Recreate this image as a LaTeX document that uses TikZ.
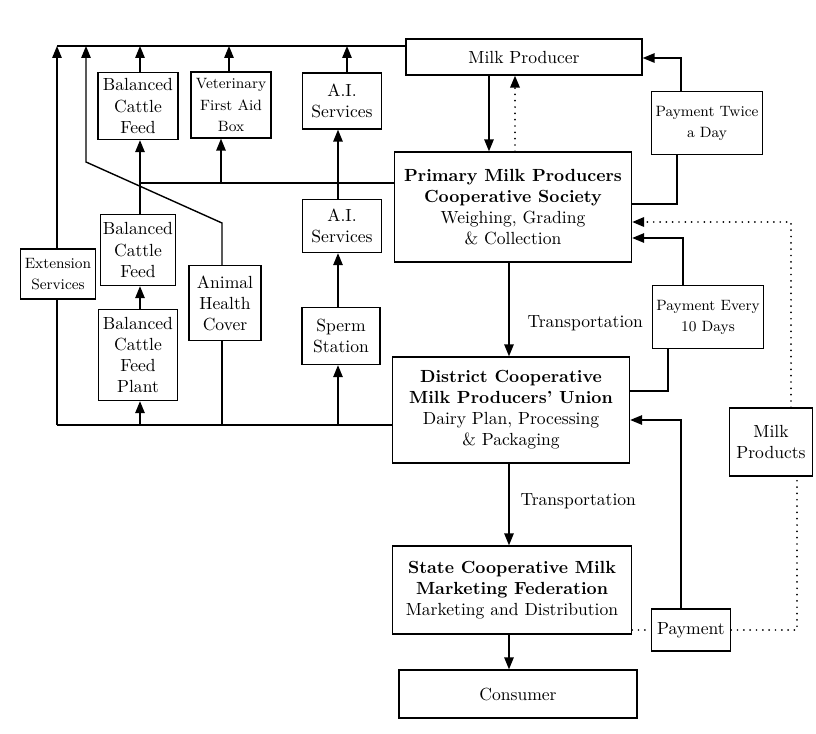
\documentclass[tikz,border=0pt]{standalone}
\usetikzlibrary{arrows.meta}
\begin{document}
\begin{tikzpicture}[x=0.02cm, y=-0.02cm,
  box/.style={draw, line width=0.8pt, align=center, inner sep=1pt},
  smalltext/.style={font=\fontsize{8.5}{12}\selectfont},
  paytext/.style={font=\fontsize{8.5}{12}\selectfont},
  link/.style={draw, line width=0.8pt},
  arr/.style={link, -{Triangle[length=2.4mm,width=1.9mm]}},
  dots/.style={draw, line width=1.1pt, line cap=round, dash pattern=on 0pt off 3.6pt}]
\useasboundingbox (0,0) rectangle (816,734);
% main chain
\node[box, minimum width=4.72cm, minimum height=0.72cm] (prod) at (524,57) {Milk Producer};
\node[box, minimum width=4.74cm, minimum height=2.2cm] (pmpcs) at (513,207) {\textbf{Primary Milk Producers}\\ \textbf{Cooperative Society}\\ Weighing, Grading\\ \& Collection};
\node[box, minimum width=4.74cm, minimum height=2.12cm] (dcmpu) at (511,410) {\textbf{District Cooperative}\\ \textbf{Milk Producers' Union}\\ Dairy Plan, Processing\\ \& Packaging};
\node[box, minimum width=4.78cm, minimum height=1.76cm] (scmmf) at (512,590) {\textbf{State Cooperative Milk}\\ \textbf{Marketing Federation}\\ Marketing and Distribution};
\node[box, minimum width=4.76cm, minimum height=0.96cm] (cons) at (518,694) {Consumer};
% payments
\node[box, paytext, minimum width=2.22cm, minimum height=1.26cm] (payA) at (707,123) {Payment Twice\\ a Day};
\node[box, paytext, minimum width=2.22cm, minimum height=1.26cm] (payB) at (708,317) {Payment Every\\ 10 Days};
\node[box, minimum width=1.58cm, minimum height=0.84cm] (payC) at (691,630) {Payment};
\node[box, minimum width=1.66cm, minimum height=1.36cm] (prodm) at (771,442) {Milk\\ Products};
% support services
\node[box, minimum width=1.6cm, minimum height=1.34cm] (feedA) at (138,106) {Balanced\\ Cattle\\ Feed};
\node[box, smalltext, minimum width=1.6cm, minimum height=1.32cm] (vet) at (231,105) {Veterinary\\ First Aid\\ Box};
\node[box, minimum width=1.58cm, minimum height=1.12cm] (aiA) at (342,101) {A.I.\\ Services};
\node[box, minimum width=1.5cm, minimum height=1.42cm] (feedB) at (138,250) {Balanced\\ Cattle\\ Feed};
\node[box, smalltext, minimum width=1.5cm, minimum height=1.0cm] (ext) at (58,274) {Extension\\ Services};
\node[box, minimum width=1.58cm, minimum height=1.06cm] (aiB) at (342,226) {A.I.\\ Services};
\node[box, minimum width=1.44cm, minimum height=1.5cm] (ahc) at (225,303) {Animal\\ Health\\ Cover};
\node[box, minimum width=1.58cm, minimum height=1.82cm] (plant) at (138,355) {Balanced\\ Cattle\\ Feed\\ Plant};
\node[box, minimum width=1.56cm, minimum height=1.14cm] (sperm) at (341,336) {Sperm\\ Station};
% lanes
\coordinate (top) at (57,46);
\coordinate (mid) at (140,183);
\coordinate (bot) at (57,425);
\coordinate (bend) at (86,162);
\coordinate (knee) at (222,223);
\coordinate (feedx) at (140,0);
\coordinate (vetx) at (221,0);
\coordinate (vetup) at (229,0);
\coordinate (aix) at (338,0);
\coordinate (aiup) at (347,0);
\coordinate (down) at (489,0);
\coordinate (upd) at (515,0);
\coordinate (trunk) at (509,0);
% left side
\draw[link] (top) -- (top -| prod.west);
\draw[link] (mid) -- (mid -| pmpcs.west);
\draw[link] (bot) -- (bot -| dcmpu.west);
\draw[arr] (ext.north -| top) -- (top);
\draw[link] (bot) -- (ext.south -| bot);
\draw[arr] (feedA.north -| feedx) -- (top -| feedx);
\draw[arr] (vet.north -| vetup) -- (top -| vetup);
\draw[arr] (aiA.north -| aiup) -- (top -| aiup);
\draw[arr] (ahc.north -| knee) -- (knee) -- (bend) -- (bend |- top);
\draw[link] (ahc.south -| knee) -- (bot -| knee);
\draw[arr] (bot -| feedx) -- (plant.south -| feedx);
\draw[arr] (plant.north -| feedx) -- (feedB.south -| feedx);
\draw[arr] (feedB.north -| feedx) -- (feedA.south -| feedx);
\draw[arr] (mid -| vetx) -- (vet.south -| vetx);
\draw[arr] (bot -| aix) -- (sperm.south -| aix);
\draw[arr] (sperm.north -| aix) -- (aiB.south -| aix);
\draw[arr] (aiB.north -| aix) -- (aiA.south -| aix);
% main column
\draw[arr] (prod.south -| down) -- (pmpcs.north -| down);
\draw[arr, dots] (pmpcs.north -| upd) -- (prod.south -| upd);
\draw[arr] (pmpcs.south -| trunk) -- node (tr1) [pos=0.65, right=0.24cm] {Transportation} (dcmpu.north -| trunk);
\draw[arr] (dcmpu.south -| trunk) -- node (tr2) [pos=0.46, right=0.1cm] {Transportation} (scmmf.north -| trunk);
\draw[arr] (scmmf.south -| trunk) -- (cons.north -| trunk);
% right side
\coordinate (r1) at (677,204);
\coordinate (r2) at (681,58);
\coordinate (r3) at (683,238);
\coordinate (r4) at (668,391);
\coordinate (r5) at (681,420);
\coordinate (r6) at (797,628);
\coordinate (r7) at (791,222);
\draw[link] (r1 -| pmpcs.east) -- (r1) -- (r1 |- payA.south);
\draw[arr] (payA.north -| r2) -- (r2) -- (r2 -| prod.east);
\draw[arr] (payB.north -| r3) -- (r3) -- (r3 -| pmpcs.east);
\draw[link] (r4 -| dcmpu.east) -- (r4) -- (r4 |- payB.south);
\draw[arr] (payC.north -| r5) -- (r5) -- (r5 -| dcmpu.east);
\draw[dots] (scmmf.east |- payC.west) -- (payC.west);
\draw[dots] (payC.east) -- (r6 |- payC.east) -- (prodm.south -| r6);
\draw[arr, dots] (prodm.north -| r7) -- (r7) -- (r7 -| pmpcs.east);
\end{tikzpicture}
\end{document}
